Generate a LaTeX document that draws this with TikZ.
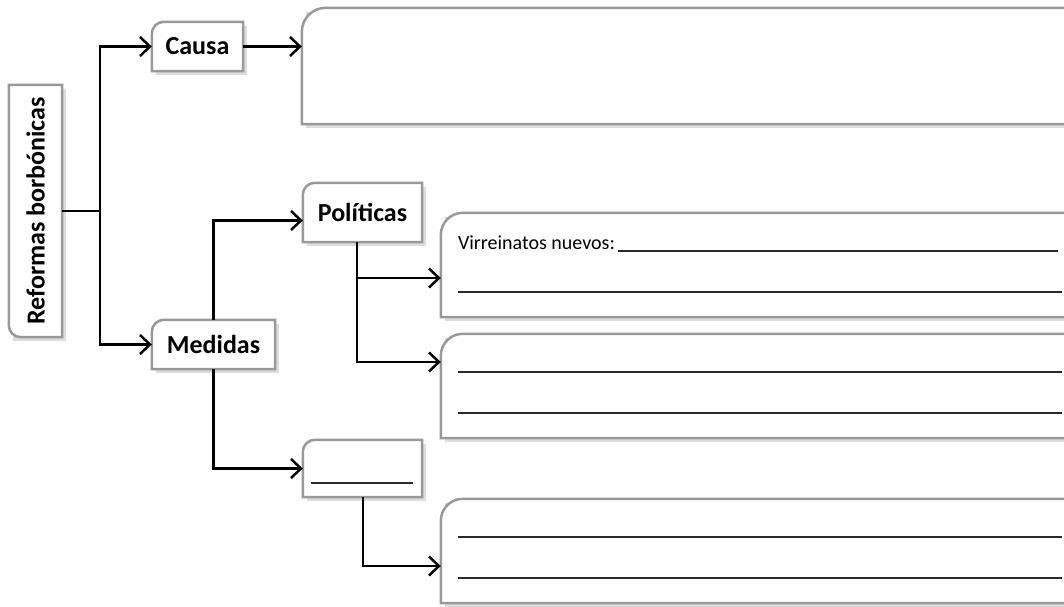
\documentclass[tikz,border=0pt]{standalone}
\usepackage{fontspec}
\setmainfont{Carlito}
\usetikzlibrary{positioning,arrows.meta,backgrounds}
\definecolor{boxgray}{HTML}{999999}
\definecolor{shadowgray}{HTML}{DCDCDC}
\definecolor{inkgray}{HTML}{2A2A2A}
\tikzset{
arr/.style={-{Straight Barb[length=10pt,width=19pt]}, line width=2.5pt}, % connector with open chevron
tab/.style={inner sep=0pt, font=\fontsize{26}{30}\selectfont\bfseries}, % small titled boxes
panel/.style={inner sep=0pt, minimum width=637pt, minimum height=104pt}, % answer boxes
fillline/.style={inkgray, line width=1.6pt}, % lines to write on
}

\begin{document}
\begin{tikzpicture}[x=1pt,y=1pt]
\useasboundingbox (0,0) rectangle (1064,606);
\node[tab, minimum width=53pt, minimum height=252pt] (refo) at (35.5,395) {\rotatebox{90}{Reformas borbónicas}};
\node[tab, minimum width=91pt, minimum height=49pt] (causa) at (197.5,559.5) {Causa};
\node[tab, minimum width=123pt, minimum height=49pt] (medidas) at (213.5,261.5) {Medidas};
\node[tab, minimum width=119pt, minimum height=59pt] (poli) at (362.5,393.5) {Políticas};
\node[tab, minimum width=119pt, minimum height=57pt] (blank) at (362.5,137.5) {};
\node[inner sep=0pt, minimum width=776pt, minimum height=116pt] (big) at (690,540) {};
\node[panel] (virr) at (759.5,341) {};
\node[panel] (polb) at (759.5,220) {};
\node[panel] (otro) at (759.5,55) {};

% box outlines with one round corner and a soft shadow
\begin{scope}[on background layer]
\foreach \n/\r in {causa/12, medidas/12, poli/12, blank/12, big/24, virr/22, polb/22, otro/22}{
  \fill[shadowgray] ([shift={(4pt,-4pt)}]\n.south west) rectangle ([shift={(4pt,-4pt)}]\n.north east);
  \draw[boxgray, line width=2.5pt, fill=white] (\n.west) [rounded corners=\r pt] -- (\n.north west) -- (\n.north) [sharp corners] -- (\n.north east) -- (\n.south east) -- (\n.south west) -- cycle;
}
\fill[shadowgray] ([shift={(4pt,-4pt)}]refo.south west) rectangle ([shift={(4pt,-4pt)}]refo.north east);
\draw[boxgray, line width=2.5pt, fill=white] (refo.south) [rounded corners=12pt] -- (refo.south west) -- (refo.west) [sharp corners] -- (refo.north west) -- (refo.north east) -- (refo.south east) -- cycle;
\end{scope}

% connectors
\coordinate (jr) at (100,395);
\draw[line width=2.5pt] (refo.east) -- (jr);
\draw[arr] (jr) |- (causa.west);
\draw[arr] (jr) |- (medidas.west);
\draw[arr] (causa.east) -- (causa.east -| big.west);
\draw[arr] (medidas.north) |- ([yshift=-8pt]poli.west);
\draw[arr] (medidas.south) |- (blank.west);
\draw[arr] ([xshift=-5.5pt]poli.south) |- ([yshift=-13pt]virr.west);
\draw[arr] ([xshift=-5.5pt]poli.south) |- ([yshift=24pt]polb.west);
\draw[arr] ([xshift=0.5pt]blank.south) |- ([yshift=-15pt]otro.west);

% writing lines
\draw[fillline] ([shift={(8pt,14pt)}]blank.south west) -- ([shift={(-9pt,14pt)}]blank.south east);
\node[anchor=base west, inner sep=0pt, font=\fontsize{20}{24}\selectfont] (vn) at ([shift={(17pt,-37pt)}]virr.north west) {Virreinatos nuevos:};
\coordinate (vend) at ([xshift=-20pt]virr.east);
\draw[fillline] ([shift={(3pt,-1pt)}]vn.base east) -- ([yshift=-1pt]vn.base east -| vend);
\foreach \n in {virr, polb, otro}
  \draw[fillline] ([shift={(17pt,-79pt)}]\n.north west) -- ([shift={(-16pt,-79pt)}]\n.north east);
\foreach \n in {polb, otro}
  \draw[fillline] ([shift={(17pt,-38pt)}]\n.north west) -- ([shift={(-16pt,-38pt)}]\n.north east);
\end{tikzpicture}
\end{document}
